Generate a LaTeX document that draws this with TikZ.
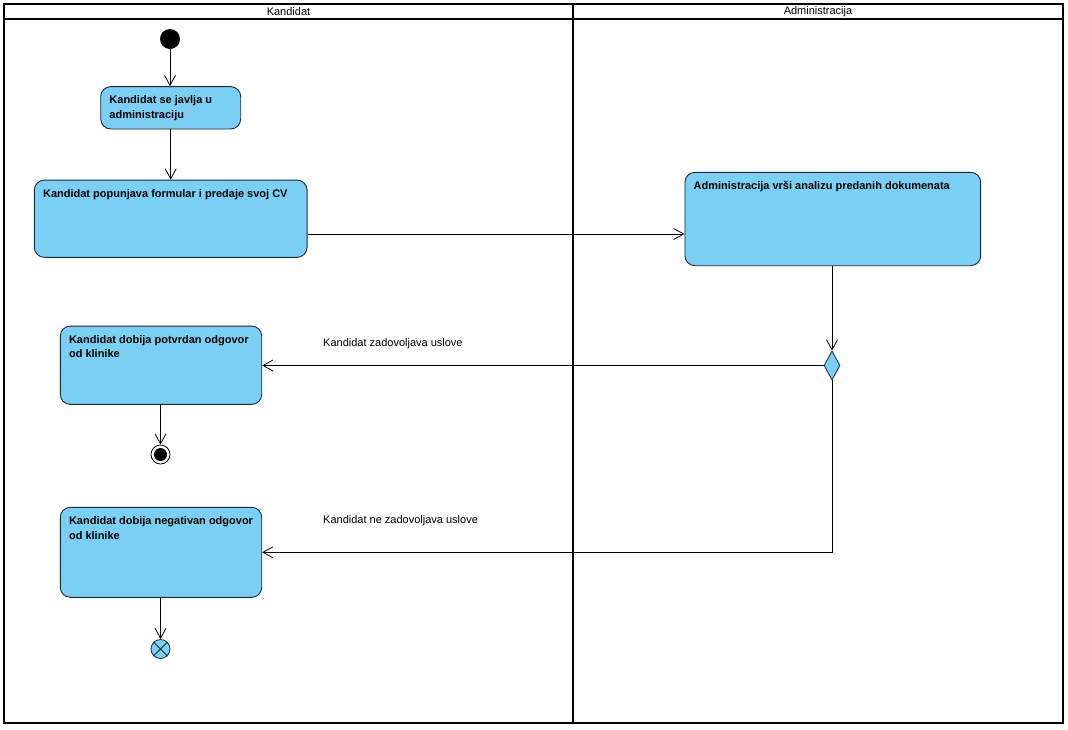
\documentclass[tikz,border=0pt]{standalone}
\usepackage{fontspec}
\setmainfont{Liberation Sans}
\usetikzlibrary{arrows.meta,shapes.geometric,calc}
\definecolor{actfill}{RGB}{122,207,245}
\definecolor{actdraw}{RGB}{28,40,56}
\begin{document}
\begin{tikzpicture}[x=1pt,y=-1pt,
  lane/.style={draw=black,line width=1.8pt},
  act/.style={draw=actdraw,line width=0.9pt,fill=actfill,rounded corners=10pt,inner sep=0pt},
  acttext/.style={anchor=north west,inner sep=0pt,font=\fontsize{11}{14.5}\selectfont\bfseries,align=left},
  flow/.style={draw=black,line width=0.8pt,-{Straight Barb[length=10pt,width=11pt,line width=0.8pt]}},
  guard/.style={font=\fontsize{11}{13}\selectfont,anchor=west,inner sep=0pt},
  lanehead/.style={font=\fontsize{11}{13}\selectfont,inner sep=0pt}
]
\fill[white] (0,0) rectangle (1068,729);
\useasboundingbox (0,0) rectangle (1068,729);

% swimlanes
\draw[lane] (4,4) rectangle (1063,723);
\draw[lane] (4,19) -- (1063,19);
\draw[lane] (573,4) -- (573,723);
\node[lanehead] (h1) at (288.5,12) {Kandidat};
\node[lanehead] (h2) at (818,12) {Administracija};

% activities
\node[act, minimum width=140pt, minimum height=42.3pt] (a1) at (170.7,107.8) {};
\node[acttext] (t1) at ($(a1.north west)+(9,9.5)$) {Kandidat se javlja u\\administraciju};

\node[act, minimum width=272.7pt, minimum height=77.3pt] (a2) at (170.7,218.7) {};
\node[acttext] (t2) at ($(a2.north west)+(9,9.5)$) {Kandidat popunjava formular i predaje svoj CV};

\node[act, minimum width=295.7pt, minimum height=93.4pt] (a3) at (832.8,219) {};
\node[acttext] (t3) at ($(a3.north west)+(9,9.5)$) {Administracija vrši analizu predanih dokumenata};

\node[act, minimum width=201.4pt, minimum height=78.3pt] (a4) at (161,365.2) {};
\node[acttext] (t4) at ($(a4.north west)+(9,9.5)$) {Kandidat dobija potvrdan odgovor\\od klinike};

\node[act, minimum width=201.4pt, minimum height=90pt] (a5) at (161,552.3) {};
\node[acttext] (t5) at ($(a5.north west)+(9,9.5)$) {Kandidat dobija negativan odgovor\\od klinike};

% control nodes
\node[circle, fill=black, minimum size=20pt, inner sep=0pt] (init) at (170,39) {};
\node[diamond, draw=actdraw, fill=actfill, line width=0.8pt, minimum width=16pt, minimum height=29pt, inner sep=0pt] (dec) at (832,365.5) {};
\node[circle, draw=black, fill=white, line width=0.8pt, minimum size=19pt, inner sep=0pt] (fin) at (160.5,454.5) {};
\node[circle, fill=black, minimum size=13pt, inner sep=0pt] (finin) at (fin.center) {};
\node[circle, draw=actdraw, fill=actfill, line width=0.8pt, minimum size=19pt, inner sep=0pt] (ff) at (160.5,649) {};
\draw[actdraw, line width=0.8pt] (ff.north west) -- (ff.south east);
\draw[actdraw, line width=0.8pt] (ff.north east) -- (ff.south west);

% flows
\draw[flow] (init.south) -- (init.south |- a1.north);
\draw[flow] (a1.south) -- (a1.south |- a2.north);
\draw[flow] (a2.east |- 0,234) -- (a3.west |- 0,234);
\draw[flow] (a3.south -| dec) -- (dec.north);
\draw[flow] (dec.west) -- (a4.east |- dec.west);
\draw[flow] (dec.south) |- (a5.east);
\draw[flow] (a4.south -| fin) -- (fin.north);
\draw[flow] (a5.south -| ff) -- (ff.north);

% guards
\node[guard] (g1) at (323,344) {Kandidat zadovoljava uslove};
\node[guard] (g2) at (323,521) {Kandidat ne zadovoljava uslove};
\end{tikzpicture}
\end{document}
